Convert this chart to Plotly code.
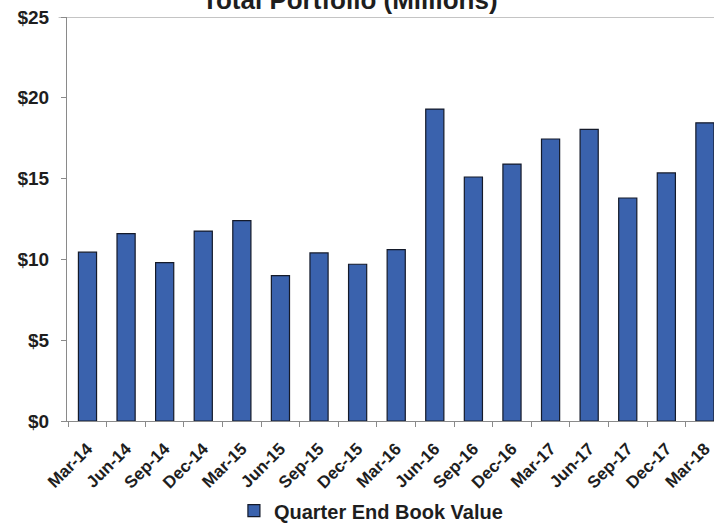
import plotly.graph_objects as go

quarters = ["Mar-14", "Jun-14", "Sep-14", "Dec-14", "Mar-15", "Jun-15", "Sep-15", "Dec-15",
            "Mar-16", "Jun-16", "Sep-16", "Dec-16", "Mar-17", "Jun-17", "Sep-17", "Dec-17", "Mar-18"]
book_value = [10.45, 11.6, 9.8, 11.75, 12.4, 9.0, 10.4, 9.7,
              10.6, 19.3, 15.1, 15.9, 17.45, 18.05, 13.8, 15.35, 18.45]
series_name = "Quarter End Book Value"
title_text = "Total Portfolio (Millions)"
y_ticks = [0, 5, 10, 15, 20, 25]
y_tick_labels = ["$0", "$5", "$10", "$15", "$20", "$25"]

FONT = "Liberation Sans, Arial, sans-serif"
TXT = "#1e1e1e"
AX = "#8a8a8a"

fig = go.Figure()
fig.add_trace(go.Bar(
    x=quarters, y=book_value, name=series_name,
    marker=dict(color="#3a62ad", line=dict(color="#141a2a", width=1.2)),
    width=0.47, showlegend=True,
))

fig.update_layout(
    width=714, height=524,
    margin=dict(l=67, r=0, t=17, b=103, autoexpand=False),
    paper_bgcolor="white", plot_bgcolor="white",
    font=dict(family=FONT, color=TXT),
    showlegend=True,
    legend=dict(orientation="h", x=0.258, xanchor="left", y=-0.222, yanchor="middle",
                font=dict(size=20, family=FONT, color=TXT, weight="bold"),
                itemwidth=30, tracegroupgap=0),
    annotations=[dict(text="<b>" + title_text + "</b>", xref="paper", yref="paper",
                      x=0.437, y=1, xanchor="center", yanchor="bottom", yshift=0,
                      showarrow=False, font=dict(size=26, family=FONT, color=TXT))],
    shapes=[dict(type="line", xref="paper", yref="y", x0=-0.013, x1=1, y0=25, y1=25,
                 line=dict(color=AX, width=1.2))],
)

fig.update_xaxes(
    type="category", range=[-0.531, 16.235], automargin=False,
    showline=True, linecolor=AX, linewidth=1.2,
    ticks="outside", tickson="boundaries", ticklen=5, tickcolor=AX,
    tickangle=-45, showgrid=False, ticklabelstandoff=10,
    tickfont=dict(size=17, family=FONT, color=TXT, weight="bold"),
)
fig.update_yaxes(
    range=[0, 25], tickvals=y_ticks, ticktext=y_tick_labels, automargin=False,
    showline=True, linecolor=AX, linewidth=1.2,
    ticks="outside", ticklen=5, tickcolor=AX, showgrid=False, zeroline=False,
    tickfont=dict(size=19, family=FONT, color=TXT, weight="bold"),
    ticklabelstandoff=8,
)

fig.write_html("out.html", config={"displayModeBar": False},
               post_script="document.body.style.margin='0';document.body.style.overflow='hidden';")
